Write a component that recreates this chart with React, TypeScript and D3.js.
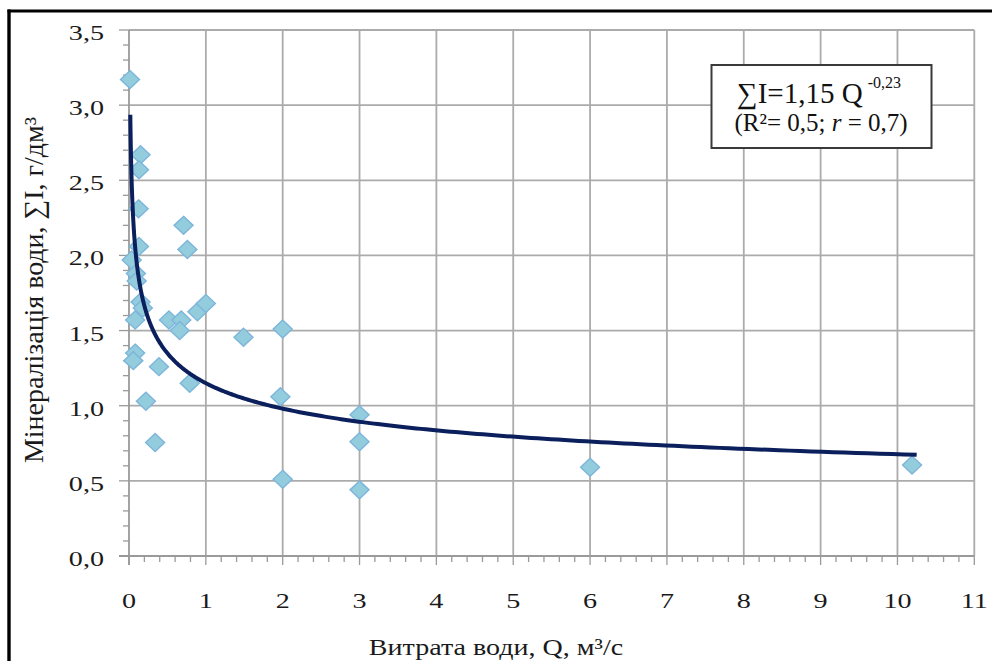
import React from "react";
import * as d3 from "d3";

// ---- data ----
const flowQ: number[] = [
  0.013, 0.15, 0.13, 0.125, 0.13, 0.035, 0.09, 0.1, 0.15, 0.18, 0.08,
  0.52, 0.68, 0.66, 0.89, 1.0, 1.49, 2.0, 0.08, 0.056, 0.39, 0.79, 1.97,
  0.22, 0.34, 2.0, 0.71, 0.76, 3.0, 3.0, 3.0, 6.0, 10.19,
];
const mineralI: number[] = [
  3.17, 2.67, 2.57, 2.31, 2.06, 1.97, 1.88, 1.83, 1.69, 1.65, 1.57,
  1.57, 1.57, 1.5, 1.625, 1.68, 1.455, 1.51, 1.35, 1.3, 1.26, 1.15, 1.06,
  1.03, 0.755, 0.51, 2.2, 2.04, 0.94, 0.76, 0.44, 0.59, 0.605,
];
// power trendline stated on the chart: ΣI = 1,15 Q^-0,23
const TREND_A = 1.15;
const TREND_B = -0.23;
const TREND_RANGE: [number, number] = [0.017, 10.25];

const xTicks: number[] = [0, 1, 2, 3, 4, 5, 6, 7, 8, 9, 10, 11];
const xTickLabels: string[] = ["0", "1", "2", "3", "4", "5", "6", "7", "8", "9", "10", "11"];
const yTicks: number[] = [0, 0.5, 1, 1.5, 2, 2.5, 3, 3.5];
const yTickLabels: string[] = ["0,0", "0,5", "1,0", "1,5", "2,0", "2,5", "3,0", "3,5"];

const W = 992;
const H = 661;
const FONT = "'Liberation Serif', 'Times New Roman', 'DejaVu Serif', serif";

export default function App() {
  const x = d3.scaleLinear().domain([0, 11]).range([129, 974.3]);
  const y = d3.scaleLinear().domain([0, 3.5]).range([556, 30]);

  const xMinor = d3.range(0, 11.001, 0.2);
  const yMinor = d3.range(0, 3.5001, 0.1);

  const trendPts: [number, number][] = d3
    .range(0, 401)
    .map((i) => {
      const t = i / 400;
      const q = Math.exp(
        Math.log(TREND_RANGE[0]) + t * (Math.log(TREND_RANGE[1]) - Math.log(TREND_RANGE[0]))
      );
      return [q, TREND_A * Math.pow(q, TREND_B)];
    });
  const line = d3
    .line<[number, number]>()
    .x((d) => x(d[0]))
    .y((d) => y(d[1]))
    .curve(d3.curveLinear);

  const diamond = (cx: number, cy: number) =>
    `M${cx},${cy - 9} L${cx + 9.5},${cy} L${cx},${cy + 9} L${cx - 9.5},${cy} Z`;

  const grid = "#ABABAB";
  const axisCol = "#9A9A9A";

  return (
    <svg
      width={W}
      height={H}
      style={{ position: "absolute", left: 0, top: 0, background: "#fff" }}
      fontFamily={FONT}
    >
      <rect x={0} y={0} width={W} height={H} fill="#fff" />
      {/* outer frame (top and left visible) */}
      <line x1={7.5} y1={11} x2={W} y2={11} stroke="#000" strokeWidth={3} />
      <line x1={9} y1={9.5} x2={9} y2={H} stroke="#000" strokeWidth={3.4} />

      {/* gridlines */}
      {yTicks.slice(1).map((v) => (
        <line key={"gy" + v} x1={x(0)} x2={x(11)} y1={y(v)} y2={y(v)} stroke={grid} strokeWidth={1.8} />
      ))}
      {xTicks.slice(1).map((v) => (
        <line key={"gx" + v} x1={x(v)} x2={x(v)} y1={y(0)} y2={y(3.5)} stroke={grid} strokeWidth={1.8} />
      ))}

      {/* axes */}
      <line x1={x(0)} x2={x(0)} y1={y(0) + 9} y2={y(3.5)} stroke={axisCol} strokeWidth={1.8} />
      <line x1={x(0) - 10} x2={x(11)} y1={y(0)} y2={y(0)} stroke={axisCol} strokeWidth={1.8} />
      {yMinor.map((v, i) => (
        <line
          key={"ym" + i}
          x1={x(0) - (i % 5 === 0 ? 10 : 6)}
          x2={x(0)}
          y1={y(v)}
          y2={y(v)}
          stroke={axisCol}
          strokeWidth={1.3}
        />
      ))}
      {xMinor.map((v, i) => (
        <line
          key={"xm" + i}
          x1={x(v)}
          x2={x(v)}
          y1={y(0)}
          y2={y(0) + (i % 5 === 0 ? 9 : 6)}
          stroke={axisCol}
          strokeWidth={1.3}
        />
      ))}

      {/* tick labels */}
      {yTicks.map((v, i) => (
        <text
          key={"yl" + v}
          transform={`translate(104,${y(v) + 10}) scale(1.28,1)`}
          textAnchor="end"
          fontSize={22}
          fill="#1a1a1a"
        >
          {yTickLabels[i]}
        </text>
      ))}
      {xTicks.map((v, i) => (
        <text
          key={"xl" + v}
          transform={`translate(${x(v)},608) scale(1.28,1)`}
          textAnchor="middle"
          fontSize={22}
          fill="#1a1a1a"
        >
          {xTickLabels[i]}
        </text>
      ))}

      {/* axis titles */}
      <text
        transform="translate(496,655) scale(1.22,1)"
        textAnchor="middle"
        fontSize={23}
        fill="#1a1a1a"
      >
        Витрата води, Q, м³/с
      </text>
      <g transform="translate(43,290) rotate(-90) scale(1,1.25)">
        <text
          x={0}
          y={0}
          textAnchor="middle"
          fontSize={22}
          fill="#1a1a1a"
          textLength={346}
          lengthAdjust="spacingAndGlyphs"
        >
          Мінералізація води, ∑I, г/дм³
        </text>
      </g>

      {/* data points */}
      {flowQ.map((q, i) => (
        <path
          key={"p" + i}
          d={diamond(x(q), y(mineralI[i]))}
          fill="#93CDDD"
          stroke="#7DB5DA"
          strokeWidth={1.4}
        />
      ))}

      {/* trendline */}
      <path d={line(trendPts) || ""} fill="none" stroke="#0A1F5C" strokeWidth={4} strokeLinejoin="round" />

      {/* equation box */}
      <rect x={711.5} y={65} width={220} height={83} fill="#fff" stroke="#3A3A3A" strokeWidth={2} />
      <text x={737} y={103} fontSize={29} fill="#111">
        ∑I=1,15 Q
        <tspan fontSize={16} dx={5} dy={-15}>
          -0,23
        </tspan>
      </text>
      <text x={821} y={131} fontSize={25} fill="#111" textAnchor="middle">
        (R²= 0,5; <tspan fontStyle="italic">r</tspan> = 0,7)
      </text>
    </svg>
  );
}
